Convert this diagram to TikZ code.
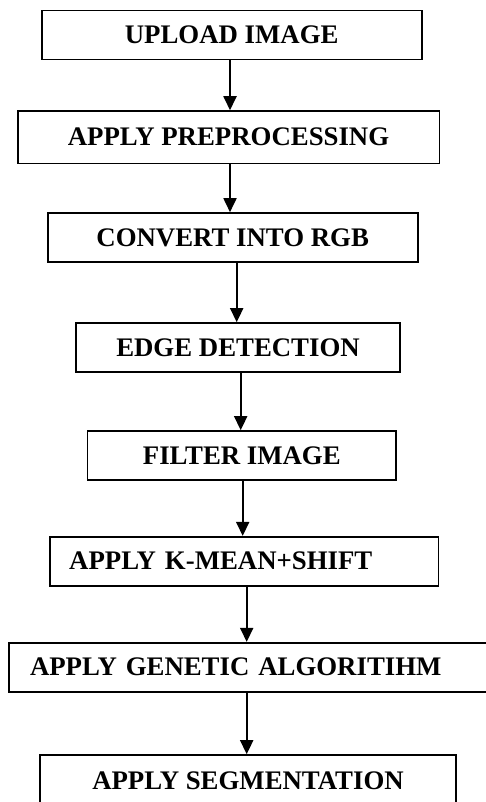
\documentclass[tikz,border=0pt]{standalone}
\usepackage{fontspec}
\setmainfont{Liberation Serif}
\usetikzlibrary{arrows.meta}
\begin{document}
\begin{tikzpicture}[x=1pt,y=-1pt,
  stepbox/.style={draw, line width=1.6pt, minimum height=49pt, inner sep=0pt,
    font=\fontsize{26.8}{30}\selectfont\bfseries},
  flow/.style={line width=1.8pt, -{Triangle[width=13pt,length=14pt]}}]
\useasboundingbox (0,0) rectangle (486,802);
\clip (0,0) rectangle (486,802);

\node[stepbox, minimum width=380pt]   (b1) at (231.7,35)    {UPLOAD IMAGE};
\node[stepbox, minimum width=421.6pt, minimum height=52.3pt] (b2) at (228.5,137.2) {APPLY PREPROCESSING};
\node[stepbox, minimum width=370pt]   (b3) at (232.7,237.5) {CONVERT INTO RGB};
\node[stepbox, minimum width=324pt]   (b4) at (238,347.5)   {EDGE DETECTION};
\node[stepbox, minimum width=308.3pt] (b5) at (241.8,455.5) {FILTER IMAGE};
\node[stepbox, minimum width=388.3pt, text width=350pt, inner xsep=19pt, align=left]
  (b6) at (244.2,561.2) {APPLY K-MEAN+SHIFT};
\node[stepbox, minimum width=491pt, text width=449pt, inner xsep=21pt, align=left]
  (b7) at (254.5,667.2) {APPLY GENETIC ALGORITIHM};
\node[stepbox, minimum width=416pt, minimum height=52pt] (b8) at (248,781) {APPLY SEGMENTATION};

\draw[flow] ([xshift=-1.7pt]b1.south) -- ([xshift=-1.7pt]b1.south |- b2.north);
\draw[flow] ([xshift=1.5pt]b2.south)  -- ([xshift=1.5pt]b2.south |- b3.north);
\draw[flow] ([xshift=4pt]b3.south)    -- ([xshift=4pt]b3.south |- b4.north);
\draw[flow] ([xshift=2.7pt]b4.south)  -- ([xshift=2.7pt]b4.south |- b5.north);
\draw[flow] ([xshift=0.9pt]b5.south)  -- ([xshift=0.9pt]b5.south |- b6.north);
\draw[flow] ([xshift=2.5pt]b6.south)  -- ([xshift=2.5pt]b6.south |- b7.north);
\draw[flow] ([xshift=-7.8pt]b7.south) -- ([xshift=-7.8pt]b7.south |- b8.north);
\end{tikzpicture}
\end{document}
